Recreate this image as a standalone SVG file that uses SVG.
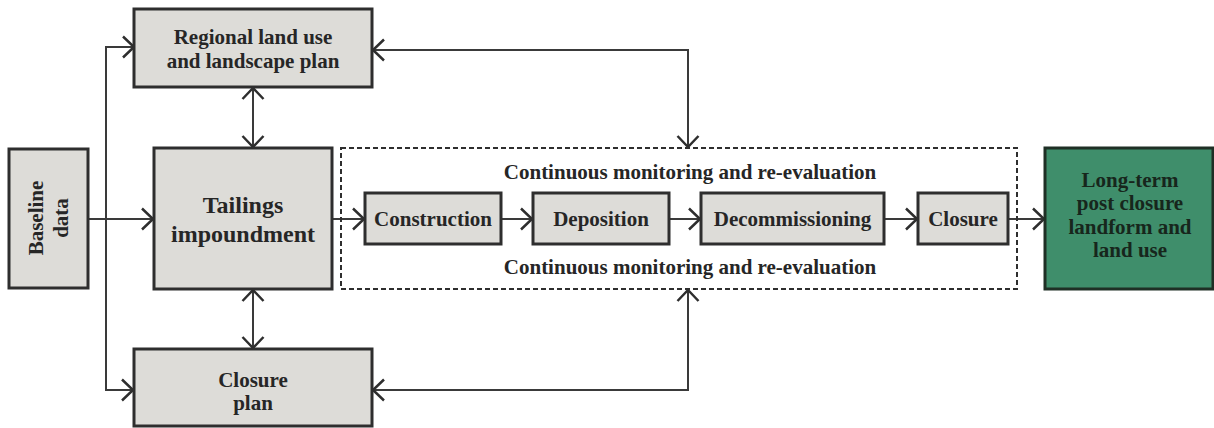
<svg xmlns="http://www.w3.org/2000/svg" width="1214" height="428" viewBox="0 0 1214 428">
<style>
.box{fill:#dddcd8;stroke:#2e2e2e;stroke-width:3}
.green{fill:#3f8e6b;stroke:#1f2f25;stroke-width:3}
.t{font-family:"Liberation Serif",serif;font-weight:bold;font-size:21px;fill:#262626;text-anchor:middle}
.big{font-size:24px}
.gt{fill:#17261c}
.c{fill:none;stroke:#3a3a3a;stroke-width:2}
.dash{fill:none;stroke:#2e2e2e;stroke-width:2;stroke-dasharray:5 3}
</style>
<defs>
<marker id="ah" viewBox="-13 -12 14 24" refX="0" refY="0" markerWidth="14" markerHeight="24" markerUnits="userSpaceOnUse" orient="auto-start-reverse" overflow="visible">
<path d="M-11,-10.5 L0,0 L-11,10.5" fill="none" stroke="#2e2e2e" stroke-width="2.5"/>
</marker>
</defs>
<rect x="0" y="0" width="1214" height="428" fill="#ffffff"/>
<g id="connectors">
<path class="c" d="M88,219 L153,219" marker-end="url(#ah)"/>
<path class="c" d="M134,47 L106,47 L106,390 L133,390" marker-start="url(#ah)" marker-end="url(#ah)"/>
<path class="c" d="M253,88 L253,147" marker-start="url(#ah)" marker-end="url(#ah)"/>
<path class="c" d="M253,290 L253,348" marker-start="url(#ah)" marker-end="url(#ah)"/>
<path class="c" d="M373,50 L688,50 L688,147" marker-start="url(#ah)" marker-end="url(#ah)"/>
<path class="c" d="M688,290 L688,390 L373,390" marker-start="url(#ah)" marker-end="url(#ah)"/>
<path class="c" d="M332,219 L364,219" marker-end="url(#ah)"/>
<path class="c" d="M501,219 L532,219" marker-end="url(#ah)"/>
<path class="c" d="M669,219 L700,219" marker-end="url(#ah)"/>
<path class="c" d="M884,219 L917,219" marker-end="url(#ah)"/>
<path class="c" d="M1008,219 L1044,219" marker-end="url(#ah)"/>
</g>
<g id="regional">
<rect class="box" x="134" y="9" width="238" height="78"/>
<text class="t" x="253" y="44">Regional land use</text>
<text class="t" x="253" y="68">and landscape plan</text>
</g>
<g id="baseline">
<rect class="box" x="9" y="149" width="79" height="139"/>
<text class="t" transform="translate(43,218) rotate(-90)">Baseline</text>
<text class="t" transform="translate(68,218) rotate(-90)">data</text>
</g>
<g id="tailings">
<rect class="box" x="154" y="148" width="178" height="141"/>
<text class="t big" x="243" y="213">Tailings</text>
<text class="t big" x="243" y="242">impoundment</text>
</g>
<g id="closureplan">
<rect class="box" x="134" y="349" width="238" height="77"/>
<text class="t" x="253" y="387">Closure</text>
<text class="t" x="253" y="410">plan</text>
</g>
<g id="monitoring">
<rect class="dash" x="341" y="148" width="676" height="141"/>
<text class="t" x="690" y="179">Continuous monitoring and re-evaluation</text>
<text class="t" x="690" y="274">Continuous monitoring and re-evaluation</text>
</g>
<g id="construction">
<rect class="box" x="365" y="193" width="136" height="51"/>
<text class="t" x="433" y="226">Construction</text>
</g>
<g id="deposition">
<rect class="box" x="533" y="193" width="136" height="51"/>
<text class="t" x="601" y="226">Deposition</text>
</g>
<g id="decommissioning">
<rect class="box" x="701" y="193" width="183" height="51"/>
<text class="t" x="792.5" y="226">Decommissioning</text>
</g>
<g id="closure">
<rect class="box" x="918" y="193" width="90" height="51"/>
<text class="t" x="963" y="226">Closure</text>
</g>
<g id="longterm">
<rect class="green" x="1045" y="148" width="168" height="141"/>
<text class="t gt" x="1130" y="187">Long-term</text>
<text class="t gt" x="1130" y="210">post closure</text>
<text class="t gt" x="1130" y="234">landform and</text>
<text class="t gt" x="1130" y="257">land use</text>
</g>
</svg>
